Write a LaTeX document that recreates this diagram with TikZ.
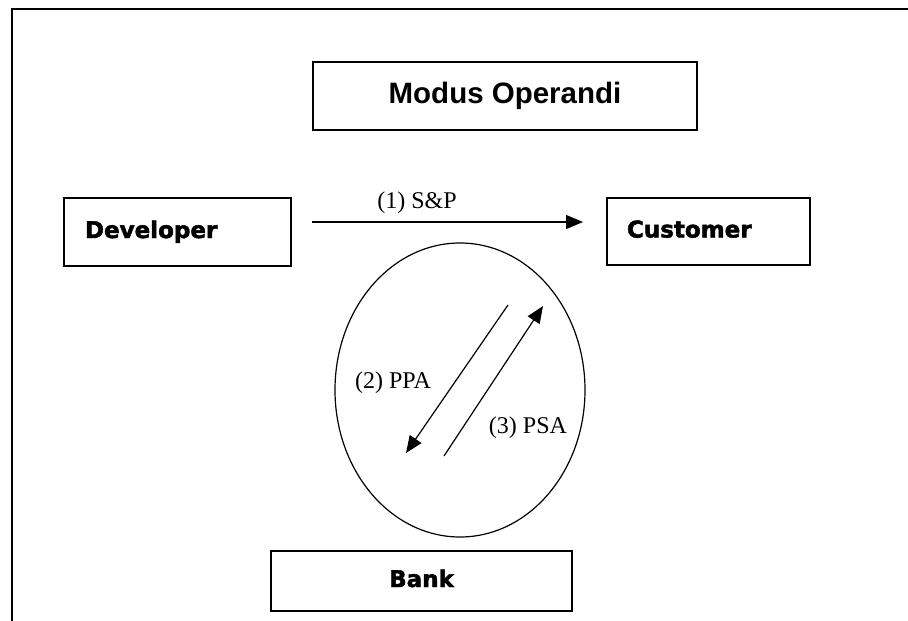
\documentclass[tikz,border=0pt]{standalone}
\usepackage{fontspec}
\setmainfont{Liberation Serif}
\newfontfamily\headfont{Liberation Sans}
\newfontfamily\heavyfont{DejaVu Sans}[FakeBold=2]
\usetikzlibrary{arrows.meta,shapes.geometric}
\begin{document}
\begin{tikzpicture}[x=1pt,y=-1pt,
  boxstyle/.style={draw=black, line width=1.8pt, rectangle, inner sep=0pt},
  heavylabel/.style={font=\heavyfont\bfseries\fontsize{23}{28}\selectfont, text height=18pt, text depth=6pt},
  flowarrow/.style={line width=1.2pt, -{Triangle[length=17pt,width=14pt]}},
  serlabel/.style={font=\fontsize{24}{28}\selectfont, inner sep=0pt, anchor=base}]
\useasboundingbox (0,0) rectangle (908,621);
% outer frame (top and left sides only)
\draw[line width=1.8pt] (12,621) -- (12,9) -- (908,9);

% title
\node[boxstyle, minimum width=384pt, minimum height=68pt,
      font=\headfont\bfseries\fontsize{29.5}{34}\selectfont] (title) at (505,96) {Modus Operandi};

% boxes
\node[boxstyle, heavylabel, minimum height=68pt, inner xsep=21pt, text width=185pt, align=left]
  (dev) at (177.5,232) {Developer};
\node[boxstyle, heavylabel, minimum height=67pt, inner xsep=20pt, text width=163pt, align=left]
  (cust) at (708.5,231.5) {Customer};
\node[boxstyle, heavylabel, minimum width=301pt, minimum height=60pt]
  (bank) at (421.5,581) {Bank};

% ellipse
\node[ellipse, draw, line width=1.2pt, minimum width=250pt, minimum height=294pt, inner sep=0pt]
  (circ) at (460,390) {};

% arrow endpoints
\coordinate (a1s) at (312,222);
\coordinate (a1e) at (583,222);
\coordinate (a2s) at (508,305);
\coordinate (a2e) at (406,453);
\coordinate (a3s) at (444,456);
\coordinate (a3e) at (543,306);

\draw[flowarrow] (a1s) -- (a1e);
\draw[flowarrow] (a2s) -- (a2e);
\draw[flowarrow] (a3s) -- (a3e);

% labels
\node[serlabel] (l1) at (417,208) {(1) S\&P};
\node[serlabel] (l2) at (393,388) {(2) PPA};
\node[serlabel] (l3) at (528,433) {(3) PSA};
\end{tikzpicture}
\end{document}
